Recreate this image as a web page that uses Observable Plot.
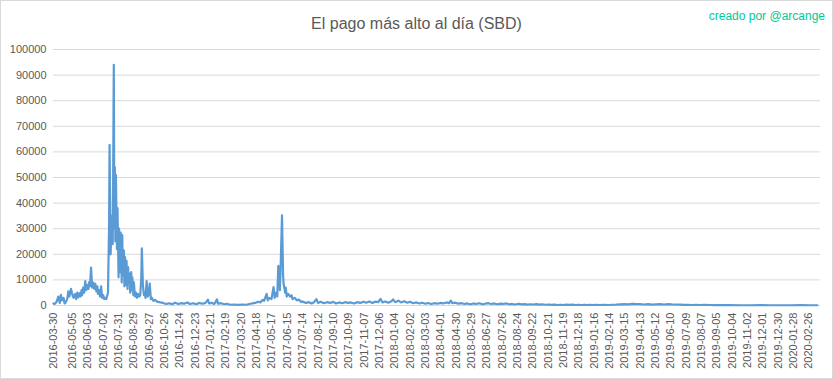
<!DOCTYPE html>
<html>
<head>
<meta charset="utf-8">
<script src="https://cdn.jsdelivr.net/npm/d3@7"></script>
<script src="https://cdn.jsdelivr.net/npm/@observablehq/plot@0.6"></script>
<style>
  body { margin: 0; background: #fff; }
  #chart { position: relative; width: 833px; height: 379px; overflow: hidden; font-family: "Liberation Sans", Arial, sans-serif; background: #fff; }
  #chart svg { position: absolute; left: 0; top: 0; }
  #frame { position: absolute; left: 0; top: 0; width: 831px; height: 377px; border: 1px solid #d9d9d9; pointer-events: none; }
  #title { position: absolute; left: 0; top: 15px; width: 833px; text-align: center; font-size: 16px; color: #595959; }
  #credit { position: absolute; right: 8px; top: 9px; font-size: 12px; color: #00c896; }
</style>
</head>
<body>
<div id="chart">
  <div id="title">El pago más alto al día (SBD)</div>
  <div id="credit">creado por @arcange</div>
  <div id="frame"></div>
</div>
<script>
// ---- data ----
const f2016 = [
  "2016-03-30","2016-04-01","2016-04-05","2016-04-08","2016-04-11","2016-04-13","2016-04-15","2016-04-18","2016-04-20","2016-04-22",
  "2016-04-25","2016-04-27","2016-04-29","2016-05-02","2016-05-05","2016-05-07","2016-05-10","2016-05-12","2016-05-14","2016-05-16",
  "2016-05-18","2016-05-20","2016-05-22","2016-05-23","2016-05-25","2016-05-27","2016-05-29","2016-05-31","2016-06-02","2016-06-04",
  "2016-06-05","2016-06-07","2016-06-09","2016-06-11","2016-06-13","2016-06-15","2016-06-17","2016-06-19","2016-06-21","2016-06-22",
  "2016-06-24","2016-06-26","2016-06-28","2016-06-30","2016-07-02","2016-07-04","2016-07-06","2016-07-08","2016-07-09","2016-07-11",
  "2016-07-13","2016-07-14","2016-07-16","2016-07-18","2016-07-20","2016-07-22","2016-07-23","2016-07-24","2016-07-25","2016-07-26",
  "2016-07-28","2016-07-29","2016-07-31","2016-08-01","2016-08-03","2016-08-04","2016-08-06","2016-08-07","2016-08-08","2016-08-10",
  "2016-08-11","2016-08-12","2016-08-14","2016-08-15","2016-08-17","2016-08-18","2016-08-19","2016-08-21","2016-08-22","2016-08-24",
  "2016-08-25","2016-08-26","2016-08-28","2016-08-29","2016-08-31","2016-09-02","2016-09-04","2016-09-06","2016-09-08","2016-09-10",
  "2016-09-12","2016-09-13","2016-09-15","2016-09-17","2016-09-18","2016-09-20","2016-09-22","2016-09-24","2016-09-26","2016-09-28",
  "2016-09-30","2016-10-02","2016-10-05","2016-10-08","2016-10-12","2016-10-18","2016-10-23","2016-10-29","2016-11-04","2016-11-09",
  "2016-11-15","2016-11-21","2016-11-26","2016-12-02","2016-12-08","2016-12-13","2016-12-19","2016-12-25","2016-12-30"
];
const p2016 = [
  800,600,1500,3500,1000,4200,2000,3000,800,1200,
  2500,5500,3500,6500,4000,3000,4500,2500,5000,3200,
  4800,3500,6000,4000,7000,5000,9500,6000,8000,6500,
  9000,7500,14800,7000,9000,6500,8500,5500,7500,4500,
  6000,3500,7500,3000,4000,2500,3000,2500,3500,5000,
  30000,62800,20000,35000,24000,94000,30000,54000,25000,51000,
  22000,38000,11000,30000,13000,28500,9000,27500,12000,21500,
  7500,19000,8000,17500,6500,15000,9500,12500,5000,13000,
  6000,11000,4000,9000,3500,5000,3000,4500,3500,4000,
  11000,22300,8000,4000,5000,3000,9500,3500,4500,8600,
  2500,3000,1800,2200,1500,1200,1000,600,900,500,
  1100,600,900,700,1200,600,900,500,1000
];
const f2017 = [
  "2017-01-05","2017-01-11","2017-01-16","2017-01-18","2017-01-24","2017-01-28","2017-02-02","2017-02-04","2017-02-10","2017-02-16",
  "2017-02-21","2017-02-27","2017-03-07","2017-03-14","2017-03-22","2017-03-30","2017-04-04","2017-04-10","2017-04-15","2017-04-21",
  "2017-04-25","2017-04-29","2017-05-02","2017-05-07","2017-05-09","2017-05-12","2017-05-16","2017-05-20","2017-05-22","2017-05-25",
  "2017-05-27","2017-05-29","2017-06-01","2017-06-02","2017-06-05","2017-06-07","2017-06-08","2017-06-11","2017-06-12","2017-06-14",
  "2017-06-17","2017-06-20","2017-06-23","2017-06-25","2017-06-29","2017-07-03","2017-07-07","2017-07-11","2017-07-14","2017-07-20",
  "2017-07-26","2017-07-31","2017-08-04","2017-08-09","2017-08-12","2017-08-17","2017-08-23","2017-08-29","2017-09-04","2017-09-10",
  "2017-09-15","2017-09-21","2017-09-27","2017-10-02","2017-10-08","2017-10-13","2017-10-19","2017-10-25","2017-10-31","2017-11-06",
  "2017-11-11","2017-11-17","2017-11-23","2017-11-28","2017-12-04","2017-12-08","2017-12-12","2017-12-17","2017-12-23","2017-12-29"
];
const p2017 = [
  700,900,2300,800,1000,600,2400,700,900,500,
  700,300,400,250,350,300,600,800,1000,1500,
  1200,2200,1800,4500,2000,3000,2500,7200,3000,5000,
  3500,15500,6000,12000,35200,12000,8500,5000,7000,3500,
  4500,3500,4000,2500,3000,2000,2300,1400,1600,1000,
  1300,800,1200,2500,1000,1500,900,1300,1000,1400,
  800,1200,900,1300,1000,1200,800,1300,1000,1500,
  1100,1600,1000,1500,1300,2600,1200,1600,1100,1700
];
const f2018 = [
  "2018-01-01","2018-01-05","2018-01-11","2018-01-16","2018-01-22","2018-01-28","2018-02-02","2018-02-08","2018-02-14","2018-02-20",
  "2018-02-25","2018-03-03","2018-03-08","2018-03-14","2018-03-20","2018-03-26","2018-03-31","2018-04-06","2018-04-12","2018-04-17",
  "2018-04-20","2018-04-23","2018-04-29","2018-05-04","2018-05-10","2018-05-16","2018-05-21","2018-05-27","2018-06-02","2018-06-07",
  "2018-06-13","2018-06-19","2018-06-24","2018-06-30","2018-07-06","2018-07-11","2018-07-17","2018-07-23","2018-07-28","2018-08-03",
  "2018-08-09","2018-08-14","2018-08-20","2018-08-26","2018-09-01","2018-09-06","2018-09-12","2018-09-18","2018-09-23","2018-09-29",
  "2018-10-05","2018-10-10","2018-10-16","2018-10-22","2018-10-27","2018-11-02","2018-11-08","2018-11-13","2018-11-19","2018-11-25",
  "2018-11-30","2018-12-06","2018-12-12","2018-12-17","2018-12-23","2018-12-29"
];
const p2018 = [
  2400,1300,1900,1200,1700,1100,1500,900,1200,800,
  1100,700,1000,600,900,700,1000,800,1200,900,
  1900,900,1100,700,900,600,800,500,800,600,
  900,500,700,900,600,800,500,700,600,800,
  500,600,400,700,450,550,350,500,400,550,
  350,500,300,400,250,350,200,300,200,350,
  250,350,200,300,200,250
];
const f2019 = [
  "2019-01-03","2019-01-08","2019-01-14","2019-01-19","2019-01-27","2019-02-04","2019-02-12","2019-02-19","2019-02-27","2019-03-06",
  "2019-03-14","2019-03-22","2019-03-29","2019-04-06","2019-04-13","2019-04-21","2019-04-28","2019-05-06","2019-05-13","2019-05-21",
  "2019-05-28","2019-06-05","2019-06-12","2019-06-20","2019-06-27","2019-07-05","2019-07-12","2019-07-20","2019-07-27","2019-08-04",
  "2019-08-13","2019-08-23","2019-09-01","2019-09-11","2019-09-20","2019-09-30","2019-10-19","2019-11-07","2019-11-26","2019-12-15"
];
const p2019 = [
  200,300,200,250,200,250,200,300,350,450,
  550,450,600,500,550,400,500,350,450,500,
  400,550,450,400,350,250,300,200,250,200,
  250,200,150,200,150,150,100,100,120,100
];
const f2020 = ["2020-01-03","2020-01-22","2020-02-10","2020-02-29","2020-03-13"];
const p2020 = [100,100,120,100,100];

const ticksY = [0,10000,20000,30000,40000,50000,60000,70000,80000,90000,100000];
const ticksX = [
  "2016-03-30","2016-05-05","2016-06-03","2016-07-02","2016-07-31","2016-08-29","2016-09-27","2016-10-26","2016-11-24","2016-12-23",
  "2017-01-21","2017-02-19","2017-03-20","2017-04-18","2017-05-17","2017-06-15","2017-07-14","2017-08-12","2017-09-10","2017-10-09",
  "2017-11-07","2017-12-06","2018-01-04","2018-02-02","2018-03-03","2018-04-01","2018-04-30","2018-05-29","2018-06-27","2018-07-26",
  "2018-08-24","2018-09-22","2018-10-21","2018-11-19","2018-12-18","2019-01-16","2019-02-14","2019-03-15","2019-04-13","2019-05-12",
  "2019-06-10","2019-07-09","2019-08-07","2019-09-05","2019-10-04","2019-11-02","2019-12-01","2019-12-30","2020-01-28","2020-02-26"
];

// ---- build ----
const parse = d3.utcParse("%Y-%m-%d");
const fechas = [...f2016, ...f2017, ...f2018, ...f2019, ...f2020];
const pagos = [...p2016, ...p2017, ...p2018, ...p2019, ...p2020];
const data = fechas.map((f, i) => ({ fecha: parse(f), pago: pagos[i] }));

const chart = Plot.plot({
  width: 833,
  height: 379,
  marginLeft: 53,
  marginRight: 13,
  marginTop: 49,
  marginBottom: 74,
  style: { fontFamily: "'Liberation Sans', Arial, sans-serif", fontSize: "11px", color: "#595959", background: "transparent", overflow: "visible" },
  x: {
    type: "utc",
    domain: [parse("2016-03-30"), parse("2020-03-19")],
    ticks: ticksX.map(parse),
    tickFormat: d3.utcFormat("%Y-%m-%d"),
    tickRotate: -90,
    tickSize: 0,
    tickPadding: 7,
    label: null
  },
  y: {
    domain: [0, 100000],
    ticks: ticksY,
    tickFormat: d => String(d),
    tickSize: 0,
    tickPadding: 7,
    label: null
  },
  marks: [
    Plot.gridY(ticksY, { stroke: "#d9d9d9", strokeOpacity: 1, strokeWidth: 1 }),
    Plot.lineY(data, { x: "fecha", y: "pago", stroke: "#5b9bd5", strokeWidth: 2.2, strokeLinejoin: "round" })
  ]
});
document.getElementById("chart").insertBefore(chart, document.getElementById("title"));
</script>
</body>
</html>
